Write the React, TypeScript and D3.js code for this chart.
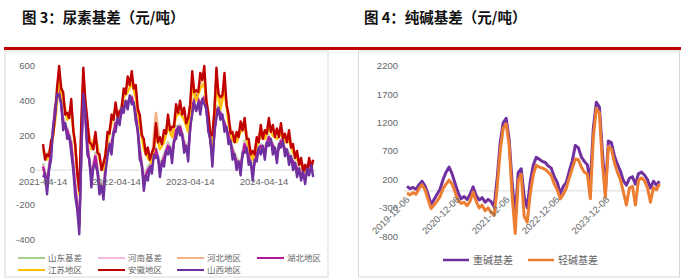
import React from "react";
import * as d3 from "d3";

// ---------- Left chart: 尿素基差 ----------
const ureaStart = "2021-04-14";
const ureaStepDays = 20; // regional series sampled every 20 days
const denseStepDays = 10; // 安徽 / 山西 sampled every 10 days
const ureaTicks = ["2021-04-14", "2022-04-14", "2023-04-14", "2024-04-14"];
const ureaYTicks = [600, 400, 200, 0, -200, -400];

const shandong = [40, -60, 120, 370, 480, 300, 240, 170, -80, -300, 490, 160, -20, 100, -70, -100, 150, 170, 290, 300, 390, 400, 430, 340, 130, -40, 20, 50, 130, 30, 90, 160, 110, 250, 260, 170, 120, 390, 440, 390, 430, 270, 90, 370, 340, 280, 210, 130, 70, 40, 170, 90, 10, 120, 150, 130, 200, 150, 110, 180, 130, 100, 60, 30, 0, -20, 20, 10];
const henan = [30, -70, 110, 365, 475, 290, 235, 160, -90, -310, 485, 150, -30, 90, -80, -110, 140, 160, 280, 295, 380, 395, 425, 335, 120, -50, 10, 40, 125, 20, 80, 150, 100, 240, 255, 160, 110, 380, 435, 385, 425, 265, 80, 360, 335, 275, 205, 120, 60, 30, 160, 85, 0, 110, 145, 120, 195, 145, 100, 175, 125, 90, 55, 20, -10, -30, 10, 0];
const hebei = [120, 80, 140, 300, 560, 420, 300, 370, 130, -130, 540, 260, 130, 210, 70, 20, 190, 290, 360, 320, 440, 490, 530, 450, 290, 150, 100, 70, 330, 150, 190, 280, 220, 340, 360, 320, 260, 520, 420, 500, 540, 300, 170, 530, 380, 500, 290, 200, 190, 250, 280, 150, 80, 170, 230, 200, 270, 230, 210, 240, 180, 200, 120, 80, 50, 10, 50, 50];
const hubei = [20, -80, 100, 360, 470, 280, 230, 150, -100, -320, 480, 140, -40, 80, -90, -120, 130, 150, 270, 290, 370, 390, 420, 330, 110, -60, 0, 30, 120, 10, 70, 140, 90, 230, 250, 150, 100, 370, 430, 380, 420, 260, 70, 350, 330, 270, 200, 110, 50, 20, 150, 80, -10, 100, 140, 110, 190, 140, 90, 170, 120, 80, 50, 10, -20, -40, 0, -10];
const jiangsu = [110, 60, 120, 280, 520, 400, 290, 350, 120, -140, 500, 240, 120, 200, 60, 0, 170, 270, 350, 300, 420, 450, 500, 420, 260, 120, 70, 40, 200, 120, 160, 250, 190, 310, 330, 290, 220, 480, 400, 470, 500, 270, 140, 480, 350, 460, 270, 170, 160, 220, 240, 130, 60, 140, 200, 180, 240, 200, 180, 210, 160, 170, 100, 60, 30, -10, 30, 40];
const anhui = [
  150, 60, 90, 80, 170, 200, 320, 480, 600, 470, 450, 320, 330, 300, 410, 230, 150, -20,
  -120, 280, 590, 400, 290, 160, 150, 120, 220, 100, 90, 0, 40, 90, 220, 210, 320, 290,
  390, 300, 340, 350, 470, 440, 540, 490, 570, 470, 490, 350, 320, 200, 180, 90, 130, 60,
  100, 130, 270, 160, 190, 150, 230, 210, 320, 230, 250, 250, 380, 330, 400, 320, 360, 270,
  300, 380, 570, 450, 460, 450, 560, 520, 600, 400, 330, 200, 200, 340, 590, 440, 420, 430,
  560, 380, 320, 210, 220, 160, 220, 190, 280, 230, 300, 180, 180, 90, 110, 90, 190, 160,
  260, 180, 230, 210, 300, 220, 260, 190, 240, 190, 270, 180, 210, 160, 230, 130, 150, 70,
  110, 30, 70, -10, 30, -10, 70, 10, 60,
];
const shanxi = [
  -40, -20, -140, 0, 60, 250, 320, 440, 430, 390, 230, 270, 180, 200, 100, 0, -150, -230,
  -370, 100, 440, 330, 90, 60, -100, 20, 30, -10, -140, -90, -170, -10, 80, 150, 90, 220,
  220, 300, 260, 360, 330, 400, 350, 430, 380, 390, 280, 230, 60, 30, -120, -30, -60, 20,
  -20, 90, 70, 80, -40, 50, 20, 110, 90, 130, 40, 170, 180, 250, 200, 210, 100, 140,
  50, 250, 320, 390, 340, 390, 320, 410, 380, 360, 220, 180, 20, 220, 300, 360, 290, 320,
  220, 250, 150, 170, 60, 90, 0, 50, -30, 100, 100, 130, 30, 50, -60, 60, 50, 130,
  90, 140, 60, 160, 140, 180, 90, 130, 40, 150, 130, 170, 80, 120, 30, 80, 0, 40,
  -40, 10, -60, -10, -80, 10, -30, 30, -40,
];

const ureaNames = ["山东基差", "河南基差", "河北地区", "湖北地区", "江苏地区", "安徽地区", "山西地区"];
const ureaColors = ["#A9D18E", "#F4B9DC", "#F4B183", "#B3179C", "#FFC000", "#C00000", "#7030A0"];
const ureaSeries = [shandong, henan, hebei, hubei, jiangsu, anhui, shanxi];
const ureaSteps = [ureaStepDays, ureaStepDays, ureaStepDays, ureaStepDays, ureaStepDays, denseStepDays, denseStepDays];

// ---------- Right chart: 纯碱基差 ----------
const sodaStart = "2019-12-06";
const sodaStepDays = 22;
const sodaTicks = ["2019-12-06", "2020-12-06", "2021-12-06", "2022-12-06", "2023-12-06"];
const sodaYTicks = [2200, 1700, 1200, 700, 200, -300, -800];

const heavySoda = [80, 40, 60, 30, 110, 170, 90, -60, -240, -150, -60, 30, 200, 330, 420, 300, 130, -30, -140, -100, -150, -60, 70, -80, -160, -120, -200, -150, -190, -280, 220, 840, 1200, 1280, 900, 130, -450, 320, 390, -100, -300, 160, 450, 590, 560, 520, 500, 440, 400, 250, 150, -50, 80, 150, 350, 530, 800, 760, 600, 520, 460, 150, 1100, 1560, 1480, 700, -20, 880, 850, 620, 470, 350, 180, 100, 220, 250, 120, 300, 330, 280, 200, 50, 170, 100, 170];
const lightSoda = [-40, -70, -30, -60, 40, 110, 20, -150, -310, -250, -180, -100, 40, 120, 190, 120, -20, -170, -220, -200, -260, -180, -20, -180, -300, -250, -350, -300, -380, -430, 60, 700, 1100, 1180, 800, -100, -750, 180, 290, -450, -550, -50, 280, 450, 420, 400, 380, 330, 270, 120, 20, -140, -60, 50, 230, 400, 560, 550, 420, 330, 300, -140, 950, 1450, 1380, 500, -110, 780, 740, 500, 330, 200, -20, -250, 50, 80, -250, 180, 230, 180, 60, -200, 60, 20, 120];

const sodaNames = ["重碱基差", "轻碱基差"];
const sodaColors = ["#7030A0", "#ED7D31"];
const sodaSeries = [heavySoda, lightSoda];

const parse = d3.timeParse("%Y-%m-%d");
const AXIS_FONT = "'Liberation Sans', Arial, sans-serif";
const CJK_FONT = "'Noto Sans CJK SC', sans-serif";
const LABEL = "#666666";

function datesFor(start: string, step: number, n: number) {
  const s = parse(start) as Date;
  return d3.range(n).map((i) => d3.timeDay.offset(s, i * step));
}

function UreaChart() {
  const x = d3.scaleTime().domain([parse(ureaTicks[0]) as Date, parse(ureaTicks[3]) as Date]).range([43, 264]);
  const y = d3.scaleLinear().domain([-400, 600]).range([239.5, 66]);
  const legendPos = [
    [18, 258], [98, 258], [177, 258], [257, 258],
    [18, 270], [98, 270], [177, 270],
  ];
  return (
    <g>
      <rect x={5} y={51} width={323} height={226} fill="#fff" stroke="#d9d9d9" strokeWidth={1} />
      <line x1={37} x2={316} y1={y(0)} y2={y(0)} stroke="#d9d9d9" strokeWidth={1} />
      {ureaYTicks.map((t) => (
        <text key={t} x={35} y={y(t)} dy="0.35em" textAnchor="end" fontSize={9.5} fill={LABEL} fontFamily={AXIS_FONT}>{t}</text>
      ))}
      {ureaSeries.map((s, k) => {
        const dates = datesFor(ureaStart, ureaSteps[k], s.length);
        const line = d3.line<number>().x((_, i) => x(dates[i])).y((d) => y(d));
        return <path key={k} d={line(s) || ""} fill="none" stroke={ureaColors[k]} strokeWidth={2.4} strokeLinejoin="round" />;
      })}
      {ureaTicks.map((t) => (
        <text key={t} x={x(parse(t) as Date)} y={184.5} textAnchor="middle" fontSize={9.5} fill={LABEL} fontFamily={AXIS_FONT}>{t}</text>
      ))}
      {ureaNames.map((n, k) => (
        <g key={n}>
          <line x1={legendPos[k][0]} x2={legendPos[k][0] + 27} y1={legendPos[k][1]} y2={legendPos[k][1]} stroke={ureaColors[k]} strokeWidth={2} />
          <text x={legendPos[k][0] + 30} y={legendPos[k][1]} dy="0.35em" fontSize={8.5} fill={LABEL} fontFamily={CJK_FONT}>{n}</text>
        </g>
      ))}
    </g>
  );
}

function SodaChart() {
  const x = d3.scaleTime().domain([parse(sodaTicks[0]) as Date, parse(sodaTicks[1]) as Date]).range([407, 457]);
  const y = d3.scaleLinear().domain([-800, 2200]).range([236.3, 66]);
  const dates = datesFor(sodaStart, sodaStepDays, heavySoda.length);
  const line = d3.line<number>().x((_, i) => x(dates[i])).y((d) => y(d));
  const legendPos = [[443, 260], [528, 260]];
  return (
    <g>
      <rect x={358.5} y={51} width={321} height={226} fill="#fff" stroke="#d9d9d9" strokeWidth={1} />
      <line x1={404} x2={660} y1={y(0)} y2={y(0)} stroke="#d9d9d9" strokeWidth={1} />
      {sodaYTicks.map((t) => (
        <text key={t} x={398} y={y(t)} dy="0.35em" textAnchor="end" fontSize={9.5} fill={LABEL} fontFamily={AXIS_FONT}>{t}</text>
      ))}
      {sodaSeries.map((s, k) => (
        <path key={k} d={line(s) || ""} fill="none" stroke={sodaColors[k]} strokeWidth={3} strokeLinejoin="round" />
      ))}
      {sodaTicks.map((t) => {
        const tx = x(parse(t) as Date) + 1;
        return (
          <text key={t} transform={`translate(${tx},198) rotate(-45)`} textAnchor="end" dy="0.35em" fontSize={9.5} fill={LABEL} fontFamily={AXIS_FONT}>{t}</text>
        );
      })}
      {sodaNames.map((n, k) => (
        <g key={n}>
          <line x1={legendPos[k][0]} x2={legendPos[k][0] + 26} y1={legendPos[k][1]} y2={legendPos[k][1]} stroke={sodaColors[k]} strokeWidth={2.5} />
          <text x={legendPos[k][0] + 30} y={legendPos[k][1]} dy="0.35em" fontSize={10} fill={LABEL} fontFamily={CJK_FONT}>{n}</text>
        </g>
      ))}
    </g>
  );
}

export default function App() {
  return (
    <svg width={684} height={278} style={{ position: "absolute", left: 0, top: 0, background: "#fff" }}>
      <rect x={0} y={0} width={684} height={278} fill="#fff" />
      <text x={22} y={23} fontSize={14.5} fontWeight="bold" fill="#111" fontFamily={CJK_FONT}>图 3：尿素基差（元/吨）</text>
      <text x={364} y={23} fontSize={14.5} fontWeight="bold" fill="#111" fontFamily={CJK_FONT}>图 4：纯碱基差（元/吨）</text>
      <line x1={4} x2={681} y1={48.5} y2={48.5} stroke="#C00000" strokeWidth={3} />
      <UreaChart />
      <SodaChart />
    </svg>
  );
}
